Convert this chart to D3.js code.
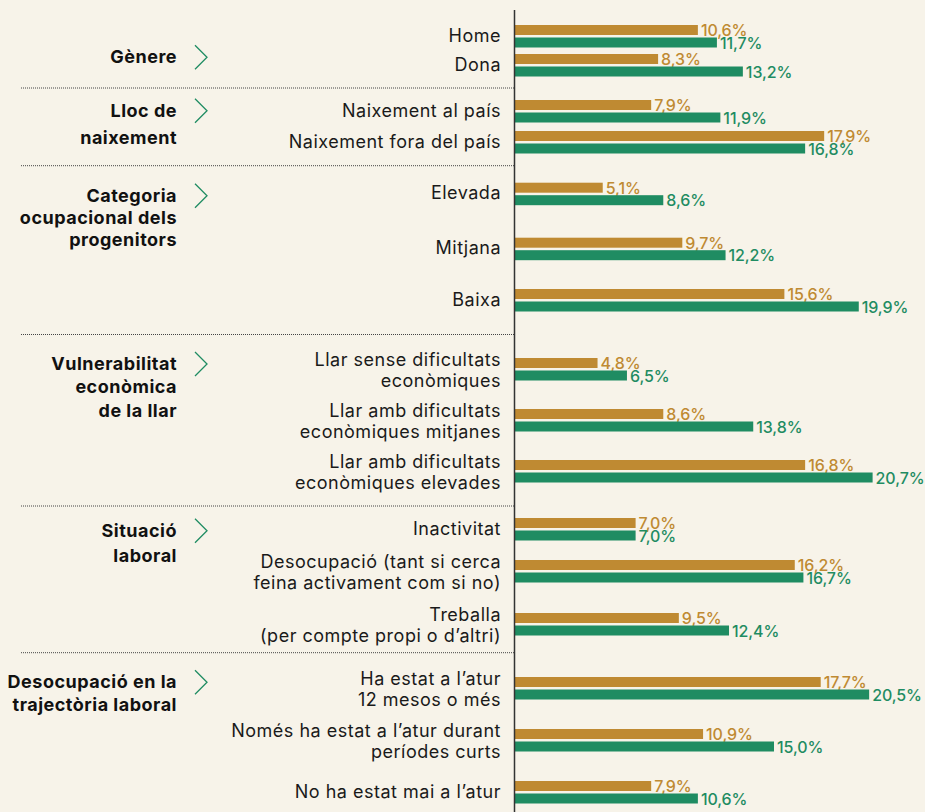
<!DOCTYPE html>
<html>
<head>
<meta charset="utf-8">
<script src="https://cdn.jsdelivr.net/npm/d3@7"></script>
<style>
  html, body { margin: 0; padding: 0; background: #f7f3e9; }
  svg { display: block; }
  text { font-family: Inter, "Noto Sans", sans-serif; }
</style>
</head>
<body>
<svg id="chart" width="925" height="812"></svg>
<script>
// ---- data ----
const groupNames = [
  "Gènere",
  "Lloc de\nnaixement",
  "Categoria\nocupacional dels\nprogenitors",
  "Vulnerabilitat\neconòmica\nde la llar",
  "Situació\nlaboral",
  "Desocupació en la\ntrajectòria laboral"
];

const categories = [
  ["Home", "Dona"],
  ["Naixement al país", "Naixement fora del país"],
  ["Elevada", "Mitjana", "Baixa"],
  ["Llar sense dificultats\neconòmiques", "Llar amb dificultats\neconòmiques mitjanes", "Llar amb dificultats\neconòmiques elevades"],
  ["Inactivitat", "Desocupació (tant si cerca\nfeina activament com si no)", "Treballa\n(per compte propi o d’altri)"],
  ["Ha estat a l’atur\n12 mesos o més", "Només ha estat a l’atur durant\nperíodes curts", "No ha estat mai a l’atur"]
];

const valuesA = [
  [10.6, 8.3],
  [7.9, 17.9],
  [5.1, 9.7, 15.6],
  [4.8, 8.6, 16.8],
  [7.0, 16.2, 9.5],
  [17.7, 10.9, 7.9]
];

const valuesB = [
  [11.7, 13.2],
  [11.9, 16.8],
  [8.6, 12.2, 19.9],
  [6.5, 13.8, 20.7],
  [7.0, 16.7, 12.4],
  [20.5, 15.0, 10.6]
];

// ---- layout ----
const colors = { A: "#bf8a32", B: "#1f8c62" };
const axisX = 514.5;
const axisTop = 10;
const pairHeight = 22.5;
const groupLayout = [
  { padTop: 15,   steps: [29],       padBottom: 11.5, labelY: 53.3, lineH: 23 },
  { padTop: 12,   steps: [31],       padBottom: 12.2, labelY: 28.7, lineH: 27 },
  { padTop: 17,   steps: [55, 51.3], padBottom: 23,   labelY: 36,   lineH: 22 },
  { padTop: 23.5, steps: [51, 51],   padBottom: 23.5, labelY: 35.5, lineH: 23.3 },
  { padTop: 12,   steps: [42, 53],   padBottom: 17.2, labelY: 30.7, lineH: 25.6 },
  { padTop: 24.3, steps: [52, 52],   padBottom: 20,   labelY: 35.6, lineH: 22.7 }
];

const svg = d3.select("#chart");

const x = d3.scaleLinear().domain([0, 20]).range([axisX, axisX + 346]);
const inner = d3.scaleBand().domain(["A", "B"]).range([0, pairHeight]).paddingInner(0.2);
const fmt = v => d3.format(".1f")(v).replace(".", ",") + "%";

// build row records with their vertical position
let cursor = axisTop;
const rows = [];
const groupInfo = [];
groupNames.forEach((g, gi) => {
  const L = groupLayout[gi];
  const top = cursor;
  let y = top + L.padTop;
  categories[gi].forEach((c, ri) => {
    if (ri > 0) y += L.steps[ri - 1];
    rows.push({ label: c, a: valuesA[gi][ri], b: valuesB[gi][ri], y });
  });
  const bottom = y + pairHeight + L.padBottom;
  groupInfo.push({ name: g, top, bottom, L });
  cursor = bottom;
});

// separators between groups
svg.append("g").selectAll("line")
  .data(groupInfo.slice(0, -1))
  .join("line")
  .attr("x1", 21).attr("x2", axisX)
  .attr("y1", d => d.bottom).attr("y2", d => d.bottom)
  .attr("stroke", "#444").attr("stroke-width", 1)
  .attr("stroke-dasharray", "1,1");

// bars
const rowG = svg.append("g").selectAll("g")
  .data(rows)
  .join("g")
  .attr("transform", d => `translate(0,${d.y})`);

["A", "B"].forEach(k => {
  const key = k.toLowerCase();
  rowG.append("rect")
    .attr("x", x(0))
    .attr("y", inner(k))
    .attr("width", d => x(d[key]) - x(0))
    .attr("height", inner.bandwidth())
    .attr("fill", colors[k]);
  rowG.append("text")
    .attr("x", d => x(d[key]) + 3)
    .attr("y", inner(k) + inner.bandwidth() / 2 + 6)
    .attr("fill", colors[k])
    .attr("font-size", 16)
    .attr("font-weight", 500)
    .attr("letter-spacing", -0.1)
    .text(d => fmt(d[key]));
});

// category labels
rowG.append("text")
  .attr("text-anchor", "end")
  .attr("fill", "#1a1a1a")
  .attr("font-size", 18)
  .attr("letter-spacing", 0.5)
  .each(function (d) {
    const lines = d.label.split("\n");
    const lh = 21.5;
    const first = pairHeight / 2 + 5.5 - (lines.length - 1) * lh / 2 + (lines.length - 1) * 1.5;
    d3.select(this).selectAll("tspan")
      .data(lines)
      .join("tspan")
      .attr("x", 501)
      .attr("y", (t, i) => first + i * lh)
      .text(t => t);
  });

// group labels with chevrons
const gl = svg.append("g").selectAll("g")
  .data(groupInfo)
  .join("g")
  .attr("transform", d => `translate(0,${d.top + d.L.labelY})`);

gl.append("text")
  .attr("text-anchor", "end")
  .attr("font-weight", 700)
  .attr("font-size", 18)
  .attr("fill", "#111")
  .attr("letter-spacing", 0.5)
  .each(function (d) {
    d3.select(this).selectAll("tspan")
      .data(d.name.split("\n"))
      .join("tspan")
      .attr("x", 177)
      .attr("y", (t, i) => i * d.L.lineH)
      .text(t => t);
  });

gl.append("polyline")
  .attr("points", "195,-18 207,-6 195,6")
  .attr("fill", "none")
  .attr("stroke", colors.B)
  .attr("stroke-width", 1.3);

// vertical axis
svg.append("line")
  .attr("x1", axisX).attr("x2", axisX)
  .attr("y1", axisTop).attr("y2", 812)
  .attr("stroke", "#333").attr("stroke-width", 1.5);
</script>
</body>
</html>
